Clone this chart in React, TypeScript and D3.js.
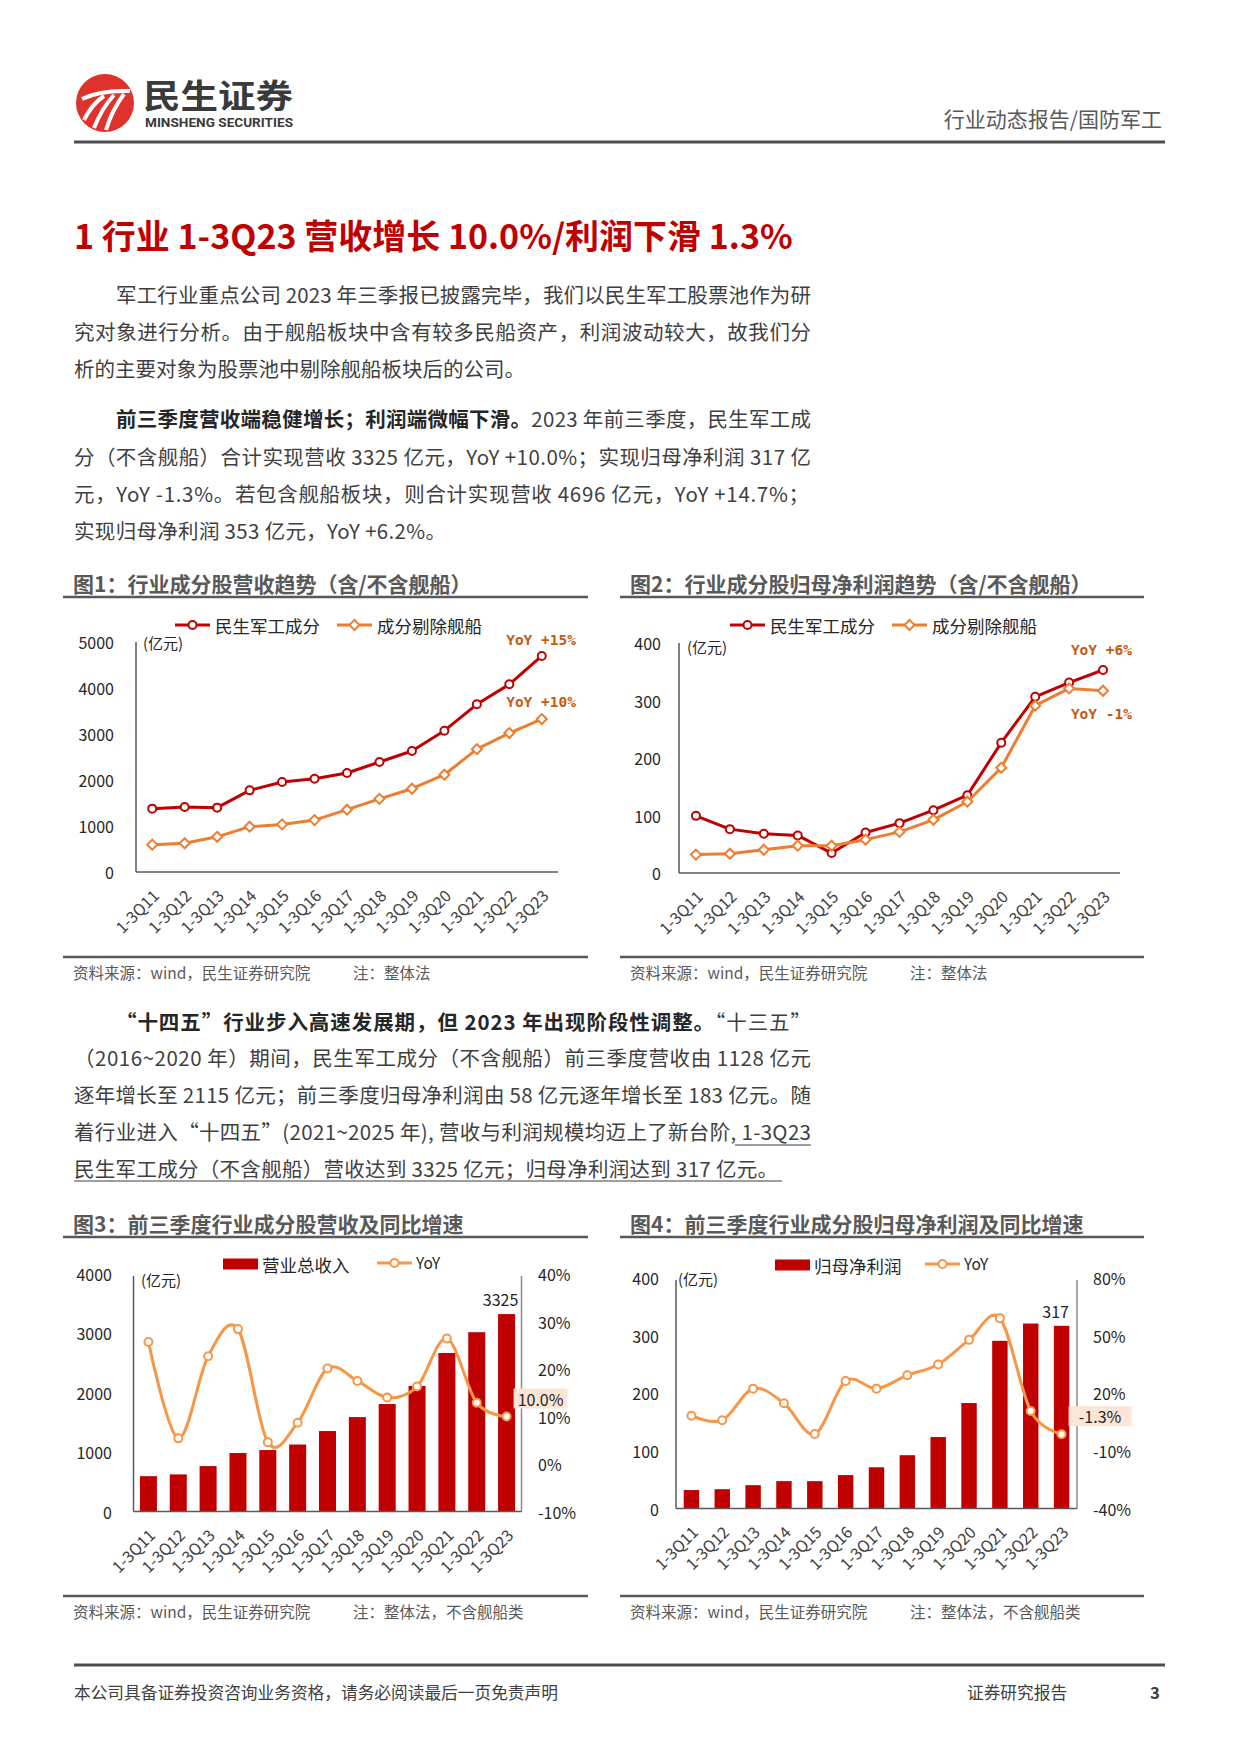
import React from 'react';
import * as d3 from 'd3';

// ---- data ----
const categories = ['1-3Q11', '1-3Q12', '1-3Q13', '1-3Q14', '1-3Q15', '1-3Q16', '1-3Q17', '1-3Q18', '1-3Q19', '1-3Q20', '1-3Q21', '1-3Q22', '1-3Q23'];
const revenueAll = [1377, 1413, 1399, 1775, 1957, 2029, 2152, 2391, 2630, 3072, 3645, 4080, 4696];
const revenueExShip = [595, 625, 765, 985, 1035, 1128, 1355, 1590, 1810, 2115, 2670, 3020, 3325];
const profitAll = [99.4, 76.3, 68.2, 65.3, 34.7, 70.5, 86.7, 109.2, 135.3, 226.6, 306.4, 331.2, 353];
const profitExShip = [32, 33.5, 40.5, 47.5, 47.5, 58, 71.5, 92.5, 124, 183, 291, 321, 317];
const revenueYoY = [25.7, 5.4, 22.7, 28.4, 4.6, 8.7, 20.1, 17.5, 14.0, 16.3, 26.4, 12.9, 10.0];
const profitYoY = [8.3, 5.9, 22.4, 14.8, -1.2, 26.4, 22.4, 29.4, 35.0, 47.8, 59.1, 10.8, -1.3];

const revenueTicks = [0, 1000, 2000, 3000, 4000, 5000];
const profitTicks = [0, 100, 200, 300, 400];
const barRevenueTicks = [0, 1000, 2000, 3000, 4000];
const revenueYoYTicks = [-10, 0, 10, 20, 30, 40];
const profitYoYTicks = [-40, -10, 20, 50, 80];

const FONT = '"Noto Sans CJK SC", "Noto Sans", sans-serif';
const RED = '#c00000';
const ORANGE = '#ed7d31';
const LIGHT_ORANGE = '#f79646';
const GRAY = '#595959';
const AXIS = '#595959';
const TXT = '#3f3f3f';

const diamond = (x: number, y: number, r: number) => `M${x},${y - r}L${x + r},${y}L${x},${y + r}L${x - r},${y}Z`;

const XLabels = ({ x, bottom }: { x: (c: string) => number; bottom: number }) => (
  <g>
    {categories.map(c => (
      <text key={c} transform={`translate(${x(c) + 3},${bottom + 20}) rotate(-45)`} textAnchor="end"
        dominantBaseline="central" fontSize={16} fill="#404040">{c}</text>
    ))}
  </g>
);

interface TrendProps {
  left: number; right: number; top: number; bottom: number; max: number; ticks: number[];
  tickX: number; unitX: number; unitY: number;
  a: number[]; b: number[];
  legendY: number; legA: number; legB: number;
  noteX: number; noteA: { t: string; y: number }; noteB: { t: string; y: number };
}

const TrendChart = (p: TrendProps) => {
  const x = d3.scalePoint<string>().domain(categories).range([p.left, p.right]).padding(0.5);
  const y = d3.scaleLinear().domain([0, p.max]).range([p.bottom, p.top]);
  const cx = (i: number) => x(categories[i])!;
  const line = d3.line<number>().x((_, i) => cx(i)).y(d => y(d));
  return (
    <g fontFamily={FONT}>
      {/* legend */}
      <line x1={p.legA} x2={p.legA + 35} y1={p.legendY} y2={p.legendY} stroke={RED} strokeWidth={3} />
      <circle cx={p.legA + 17.5} cy={p.legendY} r={4} fill="#fff" stroke={RED} strokeWidth={2} />
      <text x={p.legA + 40} y={p.legendY} dominantBaseline="central" fontSize={17.5} fill="#262626">民生军工成分</text>
      <line x1={p.legB} x2={p.legB + 35} y1={p.legendY} y2={p.legendY} stroke={ORANGE} strokeWidth={3} />
      <path d={diamond(p.legB + 17.5, p.legendY, 5)} fill="#fff" stroke={ORANGE} strokeWidth={2} />
      <text x={p.legB + 40} y={p.legendY} dominantBaseline="central" fontSize={17.5} fill="#262626">成分剔除舰船</text>
      {/* axes */}
      <line x1={p.left} x2={p.left} y1={p.top} y2={p.bottom} stroke={AXIS} strokeWidth={1.5} />
      <line x1={p.left} x2={p.right} y1={p.bottom} y2={p.bottom} stroke={AXIS} strokeWidth={1.5} />
      {p.ticks.map(t => (
        <text key={t} x={p.tickX} y={y(t)} textAnchor="end" dominantBaseline="central" fontSize={16} fill="#262626">{t}</text>
      ))}
      <text x={p.unitX} y={p.unitY} dominantBaseline="central" fontSize={15} fill="#262626">(亿元)</text>
      <XLabels x={c => x(c)!} bottom={p.bottom} />
      {/* series */}
      <path d={line(p.a)!} fill="none" stroke={RED} strokeWidth={3} strokeLinejoin="round" />
      {p.a.map((d, i) => <circle key={i} cx={cx(i)} cy={y(d)} r={4} fill="#fff" stroke={RED} strokeWidth={2} />)}
      <path d={line(p.b)!} fill="none" stroke={ORANGE} strokeWidth={3} strokeLinejoin="round" />
      {p.b.map((d, i) => <path key={i} d={diamond(cx(i), y(d), 5)} fill="#fff" stroke={ORANGE} strokeWidth={2} />)}
      <text x={p.noteX} y={p.noteA.y} textAnchor="end" dominantBaseline="central" fontFamily='"DejaVu Sans Mono", monospace'
        fontWeight="bold" fontSize={14.5} fill="#c55a11">{p.noteA.t}</text>
      <text x={p.noteX} y={p.noteB.y} textAnchor="end" dominantBaseline="central" fontFamily='"DejaVu Sans Mono", monospace'
        fontWeight="bold" fontSize={14.5} fill="#c55a11">{p.noteB.t}</text>
    </g>
  );
};

interface BarProps {
  left: number; right: number; top: number; bottom: number;
  leftTicks: number[]; rightTicks: number[];
  values: number[]; yoy: number[]; inner: number;
  tickX: number; rTickX: number; unitX: number; unitY: number;
  legendY: number; legRect: number; legName: string; legLine: number;
  lastLabel: string; callout: string; callW: number;
}

const BarChart = (p: BarProps) => {
  const xb = d3.scaleBand<string>().domain(categories).range([p.left, p.right]).paddingInner(p.inner).paddingOuter(p.inner / 2);
  const yl = d3.scaleLinear().domain([p.leftTicks[0], p.leftTicks[p.leftTicks.length - 1]]).range([p.bottom, p.top]);
  const yr = d3.scaleLinear().domain([p.rightTicks[0], p.rightTicks[p.rightTicks.length - 1]]).range([p.bottom, p.top]);
  const cx = (i: number) => xb(categories[i])! + xb.bandwidth() / 2;
  const line = d3.line<number>().x((_, i) => cx(i)).y(d => yr(d)).curve(d3.curveCardinal.tension(0));
  const n = p.values.length - 1;
  const lx = cx(n), ly = yr(p.yoy[n]);
  return (
    <g fontFamily={FONT}>
      <rect x={p.legRect} y={p.legendY - 5.5} width={35} height={11} fill={RED} />
      <text x={p.legRect + 39} y={p.legendY} dominantBaseline="central" fontSize={17.5} fill="#262626">{p.legName}</text>
      <line x1={p.legLine} x2={p.legLine + 35} y1={p.legendY - 1} y2={p.legendY - 1} stroke={LIGHT_ORANGE} strokeWidth={3} />
      <circle cx={p.legLine + 17.5} cy={p.legendY - 1} r={4} fill="#fff" stroke={LIGHT_ORANGE} strokeWidth={2} />
      <text x={p.legLine + 39} y={p.legendY - 2} dominantBaseline="central" fontSize={15.5} fill="#262626">YoY</text>
      {p.values.map((d, i) => (
        <rect key={i} x={xb(categories[i])} y={yl(d)} width={xb.bandwidth()} height={p.bottom - yl(d)} fill={RED} />
      ))}
      <line x1={p.left} x2={p.left} y1={p.top + 2} y2={p.bottom} stroke={AXIS} strokeWidth={1.5} />
      <line x1={p.right} x2={p.right} y1={p.top + 2} y2={p.bottom} stroke="#8c8c8c" strokeWidth={1.5} />
      <line x1={p.left} x2={p.right} y1={p.bottom} y2={p.bottom} stroke={AXIS} strokeWidth={1.5} />
      {p.leftTicks.map(t => (
        <text key={t} x={p.tickX} y={yl(t)} textAnchor="end" dominantBaseline="central" fontSize={16} fill="#262626">{t}</text>
      ))}
      {p.rightTicks.map(t => (
        <text key={t} x={p.rTickX} y={yr(t)} dominantBaseline="central" fontSize={16} fill="#262626">{`${t}%`}</text>
      ))}
      <text x={p.unitX} y={p.unitY} dominantBaseline="central" fontSize={15} fill="#262626">(亿元)</text>
      <XLabels x={c => xb(c)! + xb.bandwidth() / 2} bottom={p.bottom} />
      <path d={line(p.yoy)!} fill="none" stroke={LIGHT_ORANGE} strokeWidth={3} />
      {p.yoy.map((d, i) => <circle key={i} cx={cx(i)} cy={yr(d)} r={4} fill="#fff" stroke={LIGHT_ORANGE} strokeWidth={2} />)}
      <text x={cx(n) - 6} y={yl(p.values[n]) - 15} textAnchor="middle" dominantBaseline="central" fontSize={16} fill="#262626">{p.lastLabel}</text>
      <rect x={lx + 7} y={ly - 28} width={p.callW} height={20} fill="#fbe5d6" />
      <text x={lx + 7 + p.callW / 2} y={ly - 18} textAnchor="middle" dominantBaseline="central" fontSize={16} fill="#262626">{p.callout}</text>
    </g>
  );
};

type Seg = { t: string; b?: boolean };
const BodyLine = ({ y, segs, indent, len }: { y: number; segs: Seg[]; indent?: boolean; len?: number }) => {
  const x = indent ? 116 : 74;
  return (
    <text x={x} y={y} dominantBaseline="central" fontSize={20.5} fill={TXT} fontFamily={FONT}
      {...(len ? { textLength: len, lengthAdjust: 'spacing' } : {})}>
      {segs.map((s, i) => (
        <tspan key={i} fontWeight={s.b ? 'bold' : 'normal'} fill={s.b ? '#262626' : TXT}>{s.t}</tspan>
      ))}
    </text>
  );
};

const FigFrame = ({ x0, x1, title, top, srcY, note }: { x0: number; x1: number; title: string; top: number; srcY: number; note: string }) => (
  <g fontFamily={FONT}>
    <text x={x0 + 10} y={top} dominantBaseline="central" fontSize={21} fontWeight="bold" fill={GRAY}>{title}</text>
    <line x1={x0} x2={x1} y1={top + 14} y2={top + 14} stroke={GRAY} strokeWidth={2.5} />
    <line x1={x0} x2={x1} y1={srcY} y2={srcY} stroke={GRAY} strokeWidth={2.5} />
    <text x={x0 + 10} y={srcY + 15} dominantBaseline="central" fontSize={15.5} fill={GRAY}>资料来源：wind，民生证券研究院</text>
    <text x={x0 + 290} y={srcY + 15} dominantBaseline="central" fontSize={15.5} fill={GRAY}>{note}</text>
  </g>
);

export default function App() {
  return (
    <div style={{ position: 'absolute', left: 0, top: 0 }}>
      <svg width={1240} height={1754} viewBox="0 0 1240 1754" style={{ display: 'block', background: '#fff' }}>
        {/* header */}
        <circle cx={105} cy={103} r={29} fill="#e0322d" />
        <path d="M82,99 Q100,90 130,91" stroke="#fff" strokeWidth={4} fill="none" />
        <path d="M84,120 Q92,104 104,96" stroke="#fff" strokeWidth={4} fill="none" />
        <path d="M94,128 Q102,108 114,95" stroke="#fff" strokeWidth={4} fill="none" />
        <path d="M106,130 Q112,110 124,94" stroke="#fff" strokeWidth={4} fill="none" />
        <text x={143} y={94} dominantBaseline="central" fontFamily={FONT} fontWeight="bold" fontSize={33} fill="#3a3a3a"
          textLength={150} lengthAdjust="spacingAndGlyphs">民生证券</text>
        <text x={145} y={123} dominantBaseline="central" fontFamily='"Liberation Sans Narrow", "Roboto", sans-serif' fontWeight="bold"
          fontSize={12} fill="#3a3a3a" textLength={148} lengthAdjust="spacingAndGlyphs">MINSHENG SECURITIES</text>
        <text x={1162} y={118} textAnchor="end" dominantBaseline="central" fontFamily={FONT} fontSize={21} fill={GRAY}>行业动态报告/国防军工</text>
        <line x1={74} x2={1165} y1={142} y2={142} stroke="#4d4d4d" strokeWidth={3} />

        {/* section title */}
        <text x={74} y={234} dominantBaseline="central" fontFamily={FONT} fontWeight="bold" fontSize={34} fill={RED}>
          1 行业 1-3Q23 营收增长 10.0%/利润下滑 1.3%
        </text>

        <BodyLine y={294} indent len={695} segs={[{ t: '军工行业重点公司 2023 年三季报已披露完毕，我们以民生军工股票池作为研' }]} />
        <BodyLine y={331} len={737} segs={[{ t: '究对象进行分析。由于舰船板块中含有较多民船资产，利润波动较大，故我们分' }]} />
        <BodyLine y={368} segs={[{ t: '析的主要对象为股票池中剔除舰船板块后的公司。' }]} />

        <BodyLine y={418} indent len={695} segs={[{ t: '前三季度营收端稳健增长；利润端微幅下滑。', b: true }, { t: '2023 年前三季度，民生军工成' }]} />
        <BodyLine y={456} len={737} segs={[{ t: '分（不含舰船）合计实现营收 3325 亿元，YoY +10.0%；实现归母净利润 317 亿' }]} />
        <BodyLine y={493} len={735} segs={[{ t: '元，YoY -1.3%。若包含舰船板块，则合计实现营收 4696 亿元，YoY +14.7%；' }]} />
        <BodyLine y={530} len={372} segs={[{ t: '实现归母净利润 353 亿元，YoY +6.2%。' }]} />

        {/* figures 1 & 2 */}
        <FigFrame x0={63} x1={588} top={583} srcY={957} title="图1：行业成分股营收趋势（含/不含舰船）" note="注：整体法" />
        <FigFrame x0={620} x1={1144} top={583} srcY={957} title="图2：行业成分股归母净利润趋势（含/不含舰船）" note="注：整体法" />
        <TrendChart left={136} right={558} top={642} bottom={872} max={5000} ticks={revenueTicks} tickX={114} unitX={143} unitY={642}
          a={revenueAll} b={revenueExShip} legendY={625} legA={175} legB={337}
          noteX={576} noteA={{ t: 'YoY +15%', y: 640 }} noteB={{ t: 'YoY +10%', y: 702 }} />
        <TrendChart left={679} right={1120} top={643} bottom={873} max={400} ticks={profitTicks} tickX={661} unitX={687} unitY={646}
          a={profitAll} b={profitExShip} legendY={625} legA={730} legB={892}
          noteX={1132} noteA={{ t: 'YoY +6%', y: 650 }} noteB={{ t: 'YoY -1%', y: 714 }} />

        {/* paragraph 3 */}
        <BodyLine y={1021} indent len={695} segs={[{ t: '“十四五”行业步入高速发展期，但 2023 年出现阶段性调整。', b: true }, { t: '“十三五”' }]} />
        <BodyLine y={1057} len={737} segs={[{ t: '（2016~2020 年）期间，民生军工成分（不含舰船）前三季度营收由 1128 亿元' }]} />
        <BodyLine y={1094} len={737} segs={[{ t: '逐年增长至 2115 亿元；前三季度归母净利润由 58 亿元逐年增长至 183 亿元。随' }]} />
        <BodyLine y={1131} len={737} segs={[{ t: '着行业进入“十四五”(2021~2025 年), 营收与利润规模均迈上了新台阶, 1-3Q23' }]} />
        <BodyLine y={1168} len={704} segs={[{ t: '民生军工成分（不含舰船）营收达到 3325 亿元；归母净利润达到 317 亿元。' }]} />
        <line x1={735} x2={811} y1={1145} y2={1145} stroke={TXT} strokeWidth={1.2} />
        <line x1={74} x2={782} y1={1181} y2={1181} stroke={TXT} strokeWidth={1.2} />

        {/* figures 3 & 4 */}
        <FigFrame x0={63} x1={588} top={1223} srcY={1596} title="图3：前三季度行业成分股营收及同比增速" note="注：整体法，不含舰船类" />
        <FigFrame x0={620} x1={1144} top={1223} srcY={1596} title="图4：前三季度行业成分股归母净利润及同比增速" note="注：整体法，不含舰船类" />
        <BarChart left={133.5} right={521.5} top={1274} bottom={1511.5} leftTicks={barRevenueTicks} rightTicks={revenueYoYTicks}
          values={revenueExShip} yoy={revenueYoY} inner={0.43} tickX={112} rTickX={538} unitX={141} unitY={1279}
          legendY={1264} legRect={223} legName="营业总收入" legLine={377} lastLabel="3325" callout="10.0%" callW={54} />
        <BarChart left={676} right={1077} top={1278} bottom={1508.5} leftTicks={profitTicks} rightTicks={profitYoYTicks}
          values={profitExShip} yoy={profitYoY} inner={0.5} tickX={659} rTickX={1093} unitX={678} unitY={1278}
          legendY={1265} legRect={775} legName="归母净利润" legLine={925} lastLabel="317" callout="-1.3%" callW={63} />

        {/* footer */}
        <line x1={74} x2={1165} y1={1665} y2={1665} stroke="#4d4d4d" strokeWidth={3} />
        <text x={74} y={1692} dominantBaseline="central" fontFamily={FONT} fontSize={16.7} fill="#404040">本公司具备证券投资咨询业务资格，请务必阅读最后一页免责声明</text>
        <text x={967} y={1692} dominantBaseline="central" fontFamily={FONT} fontSize={16.7} fill="#404040">证券研究报告</text>
        <text x={1150} y={1692} dominantBaseline="central" fontFamily={FONT} fontSize={16.7} fontWeight="bold" fill="#404040">3</text>
      </svg>
    </div>
  );
}
